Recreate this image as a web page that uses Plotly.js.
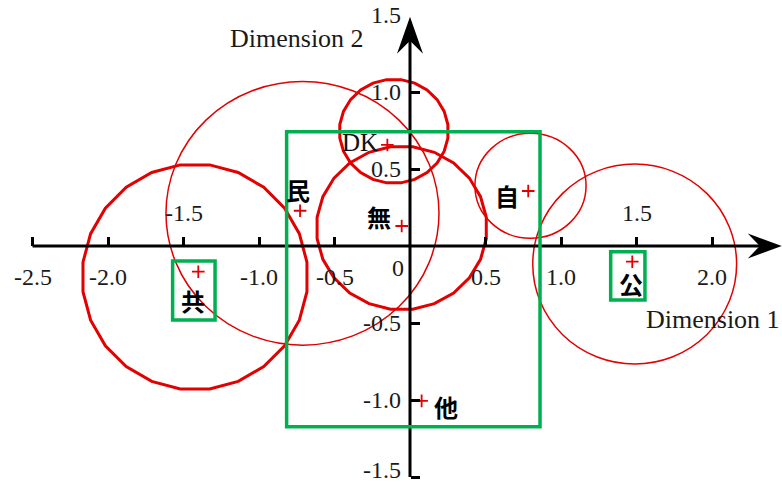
<!DOCTYPE html>
<html>
<head>
<meta charset="utf-8">
<script src="https://cdn.plot.ly/plotly-3.0.1.min.js"></script>
<style>
  html, body { margin: 0; padding: 0; background: #fff; }
  #chart { width: 782px; height: 482px; }
</style>
</head>
<body>
<div id="chart"></div>
<script>
// points (category positions on the two dimensions)
var categories = ['共', '民', 'DK', '無', '自', '公', '他'];
var pointX = [-1.402, -0.728, -0.150, -0.055, 0.783, 1.472, 0.077];
var pointY = [-0.167, 0.229, 0.656, 0.130, 0.357, -0.102, -1.006];
var labelX = [-1.435, -0.740, -0.331, -0.203, 0.644, 1.462, 0.236];
var labelY = [-0.351, 0.364, 0.671, 0.190, 0.331, -0.242, -1.039];

// confidence circles
var circleNames = ['共', '民', 'DK', '無', '自', '公'];
var circleX = [-1.424, -0.712, -0.107, -0.055, 0.798, 1.488];
var circleY = [-0.201, 0.212, 0.745, 0.117, 0.391, -0.117];
var circleRX = [0.748, 0.904, 0.361, 0.565, 0.368, 0.675];
var circleRY = [0.734, 0.856, 0.338, 0.532, 0.341, 0.649];

// green boxes
var boxX0 = [-0.817, -1.572, 1.329];
var boxX1 = [0.861, -1.291, 1.556];
var boxY0 = [-1.173, -0.481, -0.351];
var boxY1 = [0.742, -0.097, -0.037];

// axis ticks
var xTickVals = [-2.5, -2.0, -1.5, -1.0, -0.5, 0.5, 1.0, 1.5, 2.0];
var xTickText = ['-2.5', '-2.0', '-1.5', '-1.0', '-0.5', '0.5', '1.0', '1.5', '2.0'];
var yTickVals = [-1.5, -1.0, -0.5, 0.5, 1.0, 1.5];
var yTickText = ['-1.5', '-1.0', '-0.5', '0.5', '1.0', '1.5'];

// ---- layout constants ----
var W = 782, H = 482;
var X_RANGE = [-2.7152, 2.4636];
var Y_RANGE = [-1.5325, 1.5974];
var X_TIP = 2.462, Y_TIP = 1.489;
var pxX = W / (X_RANGE[1] - X_RANGE[0]);
var pxY = H / (Y_RANGE[1] - Y_RANGE[0]);

var RED = 'rgb(226,0,0)';
var GREEN = '#00b050';
var SERIF = '"Liberation Serif", "Times New Roman", serif';
var CJK = '"Noto Sans CJK JP", "Noto Sans CJK SC", sans-serif';
var THICK = ['共', 'DK', '無'];
var X_LABEL_ABOVE = [-1.5, 1.5];

function polyPath(cx, cy, rx, ry, n) {
  var d = '';
  for (var k = 0; k < n; k++) {
    var a = Math.PI / 2 + (k + 0.5) * 2 * Math.PI / n;
    d += (k ? 'L' : 'M') + (cx + rx * Math.cos(a)).toFixed(4) + ',' + (cy + ry * Math.sin(a)).toFixed(4);
  }
  return d + 'Z';
}

var shapes = [];

// circles
circleNames.forEach(function (nm, i) {
  if (THICK.indexOf(nm) >= 0) {
    shapes.push({
      type: 'path', xref: 'x', yref: 'y', layer: 'below',
      path: polyPath(circleX[i], circleY[i], circleRX[i], circleRY[i], 24),
      line: { color: RED, width: 3 }
    });
  } else {
    shapes.push({
      type: 'circle', xref: 'x', yref: 'y', layer: 'below',
      x0: circleX[i] - circleRX[i], x1: circleX[i] + circleRX[i],
      y0: circleY[i] - circleRY[i], y1: circleY[i] + circleRY[i],
      line: { color: RED, width: 1.5 }
    });
  }
});

// axis lines
shapes.push({
  type: 'line', xref: 'x', yref: 'y', layer: 'below',
  x0: xTickVals[0], x1: X_TIP - 20 / pxX, y0: 0, y1: 0,
  line: { color: '#000', width: 3 }
});
shapes.push({
  type: 'line', xref: 'x', yref: 'y', layer: 'below',
  x0: 0, x1: 0, y0: yTickVals[0], y1: Y_TIP - 20 / pxY,
  line: { color: '#000', width: 3 }
});
// arrow heads
shapes.push({
  type: 'path', xref: 'x', yref: 'y', layer: 'below',
  xsizemode: 'pixel', ysizemode: 'pixel', xanchor: X_TIP, yanchor: 0,
  path: 'M0,0L-34,12.5L-22,0L-34,-12.5Z',
  fillcolor: '#000', line: { width: 0 }
});
shapes.push({
  type: 'path', xref: 'x', yref: 'y', layer: 'below',
  xsizemode: 'pixel', ysizemode: 'pixel', xanchor: 0, yanchor: Y_TIP,
  path: 'M0,0L-13,-37L0,-24L13,-37Z',
  fillcolor: '#000', line: { width: 0 }
});

// green boxes
boxX0.forEach(function (x0, i) {
  shapes.push({
    type: 'rect', xref: 'x', yref: 'y', layer: 'below',
    x0: x0, x1: boxX1[i], y0: boxY0[i], y1: boxY1[i],
    line: { color: GREEN, width: 3.5 }
  });
});

var annotations = [];
var tickFont = { family: SERIF, size: 24, color: '#1a1a1a' };

xTickVals.forEach(function (v, i) {
  var above = X_LABEL_ABOVE.indexOf(v) >= 0;
  annotations.push({
    x: v, y: 0, xref: 'x', yref: 'y', text: xTickText[i], showarrow: false,
    xanchor: 'center', yanchor: 'middle', yshift: above ? 33 : -31, font: tickFont
  });
});
yTickVals.forEach(function (v, i) {
  // keep the lowest label inside the picture
  var fromBottom = (v - Y_RANGE[0]) * pxY;
  annotations.push({
    x: 0, y: v, xref: 'x', yref: 'y', text: yTickText[i], showarrow: false,
    xanchor: 'right', yanchor: 'middle', xshift: -7,
    yshift: fromBottom < 12 ? 12 - fromBottom : 0, font: tickFont
  });
});
annotations.push({
  x: 0, y: 0, xref: 'x', yref: 'y', text: '0', showarrow: false,
  xanchor: 'center', yanchor: 'middle', xshift: -12, yshift: -22, font: tickFont
});
annotations.push({
  x: 2.009, y: -0.476, xref: 'x', yref: 'y', text: 'Dimension 1', showarrow: false,
  xanchor: 'center', yanchor: 'middle', font: { family: SERIF, size: 26, color: '#1a1a1a' }
});
annotations.push({
  x: -0.750, y: 1.349, xref: 'x', yref: 'y', text: 'Dimension 2', showarrow: false,
  xanchor: 'center', yanchor: 'middle', font: { family: SERIF, size: 26, color: '#1a1a1a' }
});

categories.forEach(function (c, i) {
  var latin = /^[A-Za-z]+$/.test(c);
  annotations.push({
    x: labelX[i], y: labelY[i], xref: 'x', yref: 'y', text: c, showarrow: false,
    xanchor: 'center', yanchor: 'middle',
    font: latin ? { family: SERIF, size: 25, color: '#111' }
                : { family: CJK, size: 24, color: '#000', weight: 'bold' }
  });
});

var data = [{
  x: pointX, y: pointY, type: 'scatter', mode: 'markers',
  marker: { symbol: 'cross-thin', size: 9, color: RED, line: { color: RED, width: 1.8 } },
  hoverinfo: 'skip'
}];

var layout = {
  width: W, height: H,
  margin: { l: 0, r: 0, t: 0, b: 0, pad: 0 },
  paper_bgcolor: '#fff', plot_bgcolor: '#fff',
  showlegend: false,
  xaxis: {
    range: X_RANGE, anchor: 'free',
    position: (0 - Y_RANGE[0]) / (Y_RANGE[1] - Y_RANGE[0]),
    showgrid: false, zeroline: false, showline: false,
    tickmode: 'array', tickvals: xTickVals, showticklabels: false,
    ticks: 'inside', ticklen: 9, tickwidth: 3, tickcolor: '#000'
  },
  yaxis: {
    range: Y_RANGE, anchor: 'free',
    position: (0 - X_RANGE[0]) / (X_RANGE[1] - X_RANGE[0]),
    showgrid: false, zeroline: false, showline: false,
    tickmode: 'array', tickvals: yTickVals.filter(function (v) { return v < Y_TIP; }),
    showticklabels: false,
    ticks: 'inside', ticklen: 9, tickwidth: 3, tickcolor: '#000'
  },
  shapes: shapes,
  annotations: annotations
};

Plotly.newPlot('chart', data, layout, { displayModeBar: false, staticPlot: true });
</script>
</body>
</html>
